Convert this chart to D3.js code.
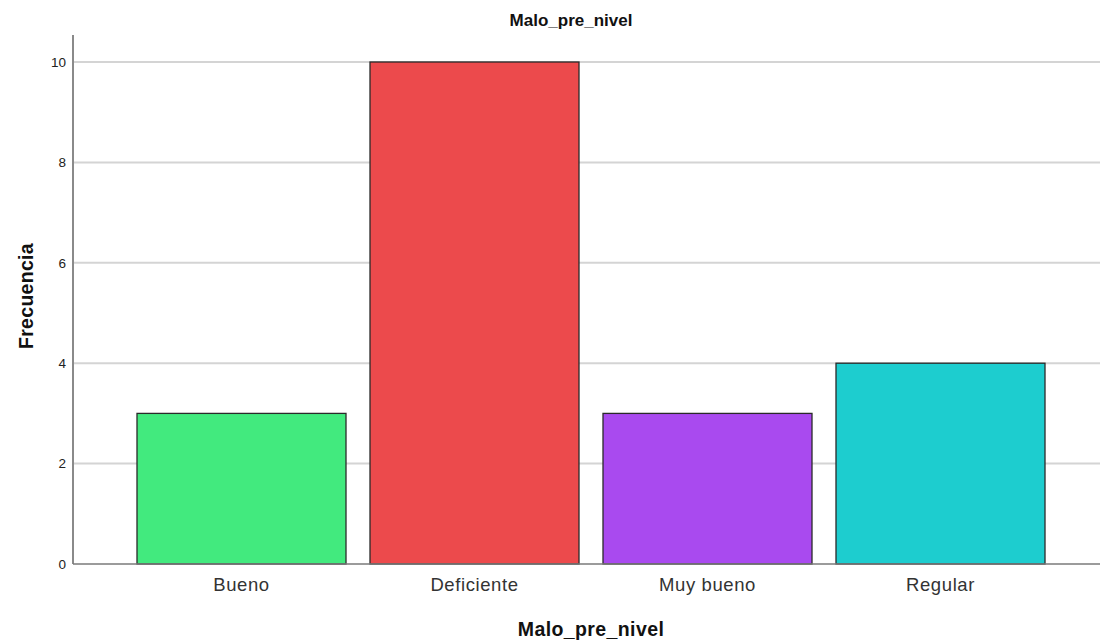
<!DOCTYPE html>
<html><head><meta charset="utf-8">
<script src="https://cdn.jsdelivr.net/npm/d3@7"></script>
<style>body{margin:0;background:#fff}svg{display:block}</style>
</head><body>
<svg id="c" width="1100" height="642"></svg>
<script>
const categories = ["Bueno","Deficiente","Muy bueno","Regular"];
const values = [3,10,3,4];
const colors = ["#42EA7E","#EC4A4C","#A94AEF","#1DCDCF"];
const yTicks = [0,2,4,6,8,10];
const title = "Malo_pre_nivel";
const xTitle = "Malo_pre_nivel";
const yTitle = "Frecuencia";

const svg = d3.select("#c");
const font = "'Liberation Sans', Arial, sans-serif";
const y = d3.scaleLinear().domain([0,10]).range([564,62]);
const x = d3.scaleBand().domain(categories).range([125,1057]).paddingInner(0.103).paddingOuter(0.0515);

// gridlines
svg.append("g").selectAll("line").data(yTicks.filter(d=>d>0)).join("line")
  .attr("x1",73).attr("x2",1100).attr("y1",d=>y(d)).attr("y2",d=>y(d))
  .attr("stroke","#d4d4d4").attr("stroke-width",2);

// bars
svg.append("g").selectAll("rect").data(values).join("rect")
  .attr("x",(d,i)=>x(categories[i])).attr("width",x.bandwidth())
  .attr("y",d=>y(d)).attr("height",d=>y(0)-y(d))
  .attr("fill",(d,i)=>colors[i]).attr("stroke","#2a2a2a").attr("stroke-width",1.3);

// y axis
const ya = svg.append("g").attr("transform","translate(73,0)")
  .call(d3.axisLeft(y).tickValues(yTicks).tickSize(0).tickPadding(7).tickFormat(d3.format("d")));
ya.select(".domain").remove();
ya.selectAll("text").attr("font-family",font).attr("font-size",13.5).attr("fill","#222");
svg.append("line").attr("x1",73).attr("x2",73).attr("y1",35).attr("y2",564).attr("stroke","#8a8a8a").attr("stroke-width",2);

// x axis
const xa = svg.append("g").attr("transform","translate(0,564)")
  .call(d3.axisBottom(x).tickSize(0).tickPadding(14));
xa.select(".domain").remove();
xa.selectAll("text").attr("font-family",font).attr("font-size",18.5).attr("letter-spacing","0.6px").attr("fill","#333");
svg.append("line").attr("x1",73).attr("x2",1100).attr("y1",564).attr("y2",564).attr("stroke","#7a7a7a").attr("stroke-width",1.5);

// titles
svg.append("text").attr("x",571).attr("y",26).attr("text-anchor","middle")
  .attr("font-family",font).attr("font-weight","bold").attr("font-size",17).attr("fill","#111").text(title);
svg.append("text").attr("x",591).attr("y",636).attr("text-anchor","middle")
  .attr("font-family",font).attr("font-weight","bold").attr("font-size",19.5).attr("letter-spacing","0.4px").attr("fill","#111").text(xTitle);
svg.append("text").attr("transform","translate(33,296) rotate(-90)").attr("text-anchor","middle")
  .attr("font-family",font).attr("font-weight","bold").attr("font-size",19.5).attr("letter-spacing","0.3px").attr("fill","#111").text(yTitle);
</script>
</body></html>
